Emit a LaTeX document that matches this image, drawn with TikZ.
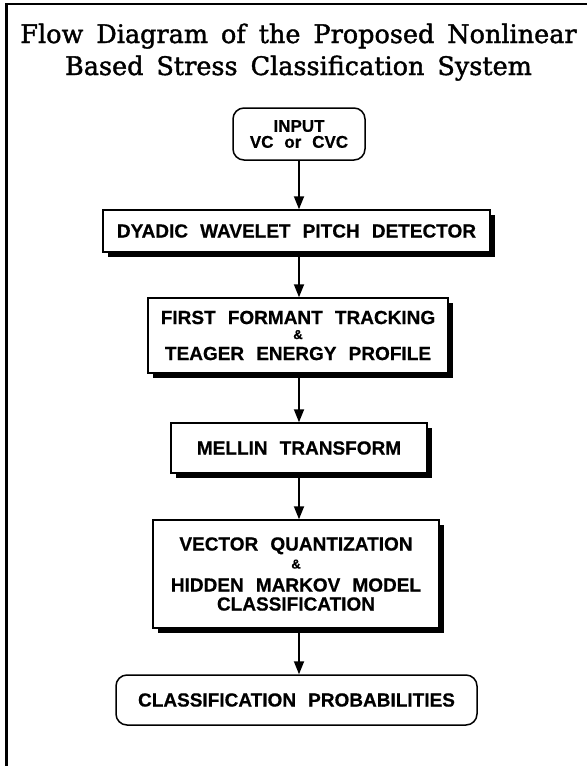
\documentclass[tikz,border=0pt]{standalone}
\usepackage{fontspec}
\usetikzlibrary{arrows.meta,shadows}
\newfontfamily\titlefont[WordSpace=1.6,FakeBold=1.5]{DejaVu Serif}
\newfontfamily\boxfont[WordSpace=2.3,FakeBold=0.6]{Liberation Sans}
\tikzset{
  frameline/.style={line width=2.5pt},
  box/.style={draw, line width=1.5pt, fill=white, inner sep=0pt, align=center,
    font=\boxfont\bfseries\fontsize{19}{20}\selectfont},
  shadowbox/.style={box, drop shadow={shadow xshift=5pt, shadow yshift=-5pt, fill=black, opacity=1}},
  roundbox/.style={box, rounded corners=11pt},
  flow/.style={line width=1.8pt, -{Triangle[length=13pt,width=10pt]}},
  ttl/.style={anchor=base, inner sep=0pt, font=\titlefont\fontsize{25.5}{30}\selectfont}
}
\newcommand{\amp}{{\fontsize{13}{13}\selectfont\&}}
\begin{document}
\begin{tikzpicture}[x=1pt,y=-1pt]
\useasboundingbox (0,0) rectangle (587,766);
\fill[white] (0,0) rectangle (587,766);
% frame
\draw[frameline] (6.5,766) -- (6.5,4) -- (587,4);
% title
\node[ttl] (t1) at (298.5,43) {Flow Diagram of the Proposed Nonlinear};
\node[ttl] (t2) at (298.5,75) {Based Stress Classification System};
% boxes
\node[roundbox, minimum width=132pt, minimum height=52pt, font=\boxfont\bfseries\fontsize{17}{16}\selectfont] (in) at (299,134) {INPUT\\VC or CVC};
\node[shadowbox, minimum width=387pt, minimum height=42pt] (dy) at (296.5,231) {DYADIC WAVELET PITCH DETECTOR};
\node[shadowbox, minimum width=300pt, minimum height=75pt] (ff) at (298,335.5) {FIRST FORMANT TRACKING\\[-5pt]\amp\\[1pt]TEAGER ENERGY PROFILE};
\node[shadowbox, minimum width=256pt, minimum height=50pt] (me) at (299,448) {MELLIN TRANSFORM};
\node[shadowbox, minimum width=286pt, minimum height=108pt] (vq) at (296,574) {VECTOR QUANTIZATION\\[-2pt]\amp\\[3pt]HIDDEN MARKOV MODEL\\[-1pt]CLASSIFICATION};
\node[roundbox, minimum width=361pt, minimum height=50pt] (cp) at (296.5,700) {CLASSIFICATION PROBABILITIES};
% arrows
\draw[flow] (in.south) -- (in.south |- dy.north);
\draw[flow] (in.south |- dy.south) -- (in.south |- ff.north);
\draw[flow] (in.south |- ff.south) -- (in.south |- me.north);
\draw[flow] (in.south |- me.south) -- (in.south |- vq.north);
\draw[flow] (in.south |- vq.south) -- (in.south |- cp.north);
\end{tikzpicture}
\end{document}
